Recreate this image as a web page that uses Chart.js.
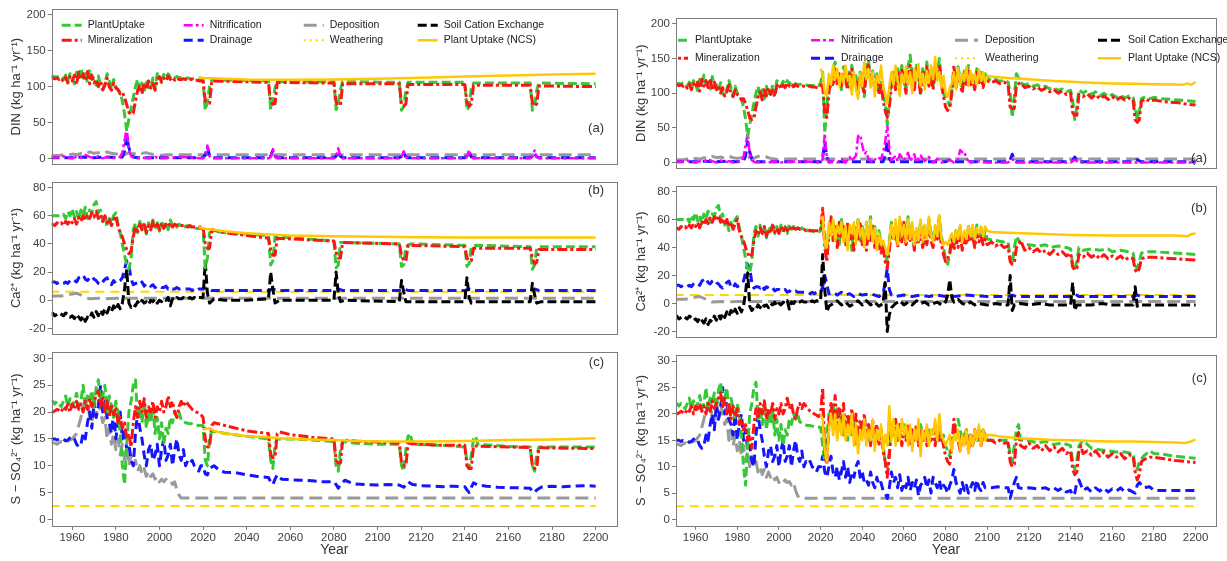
<!DOCTYPE html>
<html>
<head>
<meta charset="utf-8">
<script src="https://cdn.jsdelivr.net/npm/chart.js@4.4.1/dist/chart.umd.min.js"></script>
<style>
  body { margin: 0; background: #fff; width: 1227px; height: 561px; position: relative; overflow: hidden; }
  canvas { position: absolute; }
</style>
</head>
<body>
<script>
// ---- axis ticks ----
const yearTicks = [1960, 1980, 2000, 2020, 2040, 2060, 2080, 2100, 2120, 2140, 2160, 2180, 2200];
const dinTicks = [0, 50, 100, 150, 200];
const caTicks = [-20, 0, 20, 40, 60, 80];
const so4Ticks = [0, 5, 10, 15, 20, 25, 30];

// ---- DIN, 1950-2019 (shared by both runs) ----
const dinUptakeHist = [
  115, 114, 114, 113, 115, 115, 110, 116, 108, 118,
  112, 104, 120, 110, 126, 112, 118, 106, 124, 110,
  112, 102, 115, 100, 95, 105, 118, 108, 96, 110,
  100, 95, 92, 80, 62, 38, 55, 70, 85, 100,
  110, 95, 105, 92, 110, 100, 96, 112, 98, 118,
  116, 110, 117, 112, 118, 113, 116, 112, 114, 112,
  113, 112, 112, 112, 111, 111, 111, 111, 110, 110];
const dinMineralHist = [
  112, 112, 111, 112, 110, 112, 107, 113, 105, 114,
  108, 116, 103, 120, 110, 118, 108, 121, 104, 116,
  105, 110, 100, 108, 96, 102, 112, 100, 95, 105,
  98, 96, 90, 92, 85, 75, 64, 62, 63, 80,
  95, 102, 90, 105, 96, 108, 98, 104, 95, 110,
  114, 106, 112, 108, 115, 110, 113, 109, 112, 110,
  110, 111, 110, 109, 110, 110, 109, 109, 108, 108];
const dinNitrifHist = [[1950, 2], [1953, 1], [1956, 3], [1958, 1], [1960, 0], [1962, 2], [1964, 1], [1966, 5],
  [1968, 2], [1970, 0], [1972, 3], [1974, 0], [1976, 2], [1978, 0], [1980, 1], [1982, 2], [1983, 8], [1984, 25],
  [1985, 42], [1986, 12], [1987, 3], [1989, 0], [1992, 1], [1995, 0], [1998, 2], [2000, 0], [2005, 1], [2010, 2],
  [2015, 1], [2019, 0]];
const dinDrainHist = [[1950, 1], [1960, 1], [1965, 2], [1970, 1], [1975, 2], [1980, 1], [1983, 2], [1984, 10],
  [1985, 30], [1986, 15], [1987, 5], [1988, 2], [1990, 1], [2000, 1], [2019, 1]];
const dinDeposition = [[1950, 4], [1954, 4], [1956, 5], [1958, 4], [1960, 6], [1962, 5], [1964, 7], [1966, 6],
  [1968, 9], [1970, 7], [1972, 8], [1974, 6], [1976, 9], [1978, 7], [1980, 6], [1982, 7], [1984, 5], [1986, 8],
  [1988, 6], [1990, 9], [1992, 7], [1994, 8], [1996, 6], [1998, 5], [2000, 4], [2003, 5], [2010, 5], [2200, 5]];

// ---- DIN, 2020-2200, left run ----
const dinUptakeBase = [[2020, 110], [2021, 67], [2022, 80], [2023, 100], [2024, 109], [2030, 109], [2050, 108],
  [2051, 68], [2052, 78], [2053, 98], [2054, 107], [2080, 107], [2081, 68], [2082, 76], [2083, 96], [2084, 107],
  [2110, 106], [2111, 67], [2112, 72], [2113, 95], [2114, 106], [2140, 106], [2141, 67], [2142, 72], [2143, 98],
  [2144, 105], [2170, 105], [2171, 67], [2172, 72], [2173, 95], [2174, 105], [2200, 104]];
const dinMineralBase = [[2020, 108], [2021, 80], [2022, 77], [2023, 77], [2024, 108], [2050, 106], [2051, 78],
  [2052, 76], [2053, 76], [2054, 106], [2080, 105], [2081, 78], [2082, 74], [2083, 74], [2084, 104], [2110, 104],
  [2111, 76], [2112, 73], [2113, 76], [2114, 103], [2140, 103], [2141, 78], [2142, 73], [2143, 76], [2144, 102],
  [2170, 102], [2171, 78], [2172, 73], [2173, 76], [2174, 101], [2200, 100]];
const dinNitrifBase = [[2020, 0], [2021, 3], [2022, 18], [2023, 3], [2024, 0], [2050, 0], [2051, 2], [2052, 13],
  [2053, 2], [2054, 0], [2080, 0], [2081, 2], [2082, 14], [2083, 2], [2084, 0], [2110, 0], [2111, 2], [2112, 10],
  [2113, 2], [2114, 0], [2140, 0], [2141, 2], [2142, 12], [2143, 2], [2144, 0], [2170, 0], [2171, 2], [2172, 11],
  [2173, 2], [2174, 0], [2200, 0]];
const dinDrainBase = [[2020, 1], [2021, 5], [2022, 16], [2023, 3], [2024, 1], [2050, 1], [2051, 3], [2052, 11],
  [2053, 3], [2054, 1], [2080, 1], [2081, 3], [2082, 10], [2083, 3], [2084, 1], [2110, 1], [2111, 3], [2112, 8],
  [2113, 2], [2114, 1], [2140, 1], [2141, 3], [2142, 8], [2143, 2], [2144, 1], [2170, 1], [2171, 3], [2172, 7],
  [2173, 2], [2174, 1], [2200, 1]];
const dinNcsBase = [[2018, 113], [2020, 112], [2040, 110], [2060, 109.5], [2080, 110], [2100, 111], [2120, 112.5],
  [2140, 114], [2160, 115.5], [2180, 117], [2200, 118]];

// ---- DIN, 2020-2100 yearly then tail, right run ----
const dinUptakeScen = [
  115, 130, 42, 80, 120, 110, 135, 145, 118, 125,
  105, 138, 128, 112, 132, 140, 115, 125, 98, 130,
  120, 95, 140, 148, 120, 132, 110, 128, 100, 120,
  95, 88, 55, 90, 118, 130, 108, 135, 115, 140,
  122, 105, 138, 155, 125, 110, 140, 128, 100, 135,
  120, 145, 115, 132, 110, 138, 125, 150, 118, 100,
  92, 88, 82, 105, 128, 112, 138, 120, 105, 132,
  115, 140, 118, 125, 108, 135, 118, 130, 112, 128,
  122];
const dinMineralScen = [
  110, 115, 70, 65, 100, 125, 110, 138, 112, 128,
  108, 130, 118, 105, 128, 135, 112, 120, 100, 126,
  112, 98, 135, 140, 115, 128, 105, 122, 98, 115,
  90, 75, 65, 80, 110, 125, 105, 130, 110, 135,
  118, 100, 132, 140, 120, 105, 135, 122, 98, 130,
  115, 138, 110, 128, 105, 132, 120, 142, 112, 95,
  80, 75, 78, 100, 140, 108, 130, 115, 100, 128,
  110, 135, 112, 120, 105, 130, 112, 125, 108, 122,
  118];
const dinNcsScen = [
  135, 128, 100, 96, 128, 112, 140, 120, 135, 110,
  128, 115, 140, 118, 125, 98, 130, 105, 92, 128,
  110, 145, 120, 135, 108, 130, 95, 125, 115, 140,
  110, 100, 85, 110, 130, 112, 140, 118, 96, 128,
  115, 138, 112, 130, 100, 135, 118, 142, 110, 128,
  105, 132, 115, 140, 120, 152, 118, 130, 108, 125,
  100, 95, 108, 115, 130, 105, 136, 112, 128, 118,
  138, 110, 132, 115, 128, 112, 134, 118, 130, 115,
  125];
const dinUptakeTail = [[2102, 118], [2104, 120], [2106, 117], [2108, 119], [2110, 116], [2111, 100], [2112, 65],
  [2113, 95], [2114, 128], [2115, 122], [2116, 115], [2118, 112], [2120, 114], [2122, 110], [2124, 112], [2126, 108],
  [2128, 110], [2130, 106], [2132, 108], [2134, 104], [2136, 106], [2138, 102], [2140, 104], [2141, 90], [2142, 62],
  [2143, 80], [2144, 105], [2146, 100], [2148, 104], [2150, 98], [2152, 102], [2154, 96], [2156, 100], [2158, 95],
  [2160, 98], [2162, 94], [2164, 97], [2166, 93], [2168, 96], [2170, 94], [2171, 80], [2172, 62], [2173, 75],
  [2174, 92], [2176, 95], [2178, 92], [2180, 94], [2184, 92], [2188, 91], [2192, 90], [2196, 89], [2200, 88]];
const dinMineralTail = [[2102, 115], [2104, 118], [2106, 114], [2108, 116], [2110, 112], [2111, 80], [2112, 78],
  [2113, 78], [2114, 112], [2116, 115], [2118, 108], [2120, 110], [2122, 106], [2124, 109], [2126, 104], [2128, 107],
  [2130, 102], [2132, 105], [2134, 100], [2136, 103], [2138, 98], [2140, 100], [2141, 72], [2142, 68], [2143, 68],
  [2144, 98], [2146, 95], [2148, 99], [2150, 93], [2152, 98], [2154, 92], [2156, 96], [2158, 91], [2160, 95],
  [2162, 90], [2164, 94], [2166, 90], [2168, 93], [2170, 90], [2171, 62], [2172, 58], [2173, 62], [2174, 88],
  [2176, 92], [2178, 88], [2180, 90], [2184, 88], [2188, 87], [2192, 86], [2196, 84], [2200, 83]];
const dinNcsTail = [[2102, 124], [2110, 122], [2120, 120], [2130, 118], [2140, 116.5], [2150, 115], [2160, 114],
  [2170, 113.5], [2180, 113], [2190, 112.5], [2194, 112], [2196, 114], [2198, 112], [2200, 116]];
const dinNitrifScen = [[2020, 0], [2021, 5], [2022, 42], [2023, 8], [2024, 0], [2026, 2], [2028, 0], [2030, 5],
  [2032, 0], [2034, 8], [2035, 2], [2037, 10], [2038, 38], [2039, 40], [2040, 25], [2041, 12], [2042, 15], [2043, 5],
  [2045, 0], [2047, 8], [2049, 5], [2050, 15], [2051, 30], [2052, 55], [2053, 20], [2054, 3], [2056, 10], [2057, 2],
  [2058, 12], [2060, 3], [2062, 14], [2063, 2], [2065, 12], [2066, 0], [2068, 10], [2070, 2], [2072, 8], [2074, 0],
  [2076, 5], [2078, 0], [2080, 2], [2082, 4], [2084, 0], [2086, 5], [2087, 18], [2088, 15], [2089, 16], [2090, 5],
  [2092, 0], [2095, 2], [2100, 0], [2110, 0], [2112, 5], [2114, 0], [2140, 0], [2142, 4], [2144, 0], [2200, 0]];
const dinDrainScen = [[2020, 1], [2021, 8], [2022, 28], [2023, 8], [2024, 1], [2050, 1], [2051, 10], [2052, 32],
  [2053, 6], [2054, 1], [2080, 1], [2082, 4], [2084, 1], [2110, 1], [2111, 4], [2112, 12], [2113, 3], [2114, 1],
  [2140, 1], [2141, 3], [2142, 8], [2143, 2], [2144, 1], [2170, 1], [2172, 4], [2174, 1], [2200, 1]];

// ---- Ca2+, 1950-2019 ----
const caUptakeHist = [
  60, 60, 60, 60, 60, 60, 61, 58, 63, 60,
  65, 59, 63, 57, 64, 60, 66, 58, 64, 62,
  68, 70, 62, 64, 56, 60, 52, 58, 55, 60,
  62, 54, 48, 40, 32, 25, 22, 30, 50, 55,
  48, 56, 50, 54, 47, 55, 52, 57, 50, 55,
  49, 56, 52, 55, 50, 57, 53, 55, 52, 54,
  53, 54, 52, 53, 52, 52, 52, 51, 51, 51];
const caMineralHist = [
  54, 54, 53, 55, 54, 55, 53, 56, 54, 57,
  55, 58, 54, 59, 56, 60, 57, 61, 58, 62,
  59, 63, 58, 61, 56, 60, 55, 58, 53, 57,
  60, 52, 48, 45, 40, 36, 33, 35, 45, 52,
  49, 54, 50, 55, 48, 53, 50, 56, 51, 54,
  50, 55, 51, 54, 52, 55, 52, 54, 53, 54,
  53, 53, 53, 52, 53, 52, 52, 52, 52, 52];
const caDrainHist = [
  13, 13, 13, 12, 13, 12, 12, 13, 12, 14,
  15, 14, 13, 16, 17, 18, 15, 14, 16, 17,
  15, 14, 12, 11, 13, 15, 16, 12, 11, 14,
  12, 13, 14, 16, 22, 28, 25, 15, 11, 12,
  12, 11, 13, 10, 12, 11, 10, 11, 9, 10,
  10, 9, 9, 10, 8, 9, 8, 8, 9, 8,
  8, 8, 8, 8, 8, 7, 8, 7, 8, 8];
const caExchangeHist = [
  -10, -9, -11, -10, -9, -10, -11, -9, -10, -12,
  -11, -13, -10, -12, -14, -11, -15, -12, -13, -9,
  -12, -8, -11, -7, -10, -6, -9, -5, -8, -4,
  -7, -3, -6, -2, 8, 22, -2, -5, -3, -4,
  -1, -3, 0, -2, -1, -3, 0, -1, 1, -2,
  0, -1, 1, 0, 2, -4, 1, 0, 2, 1,
  1, 2, 1, 1, 2, 1, 2, 1, 2, 2];
const caDeposition = [[1950, 3], [1955, 3], [1958, 4], [1962, 5], [1965, 3], [1968, 1], [1972, 1.5], [1975, 1],
  [1980, 1.5], [2000, 1.5], [2200, 1.5]];
const caWeathering = [[1950, 6], [2200, 6]];

// ---- Ca2+, 2020-2200, left run ----
const caUptakeBase = [[2020, 51], [2021, 23], [2022, 30], [2023, 48], [2025, 49], [2030, 48], [2040, 47], [2050, 46],
  [2051, 25], [2052, 28], [2053, 45], [2055, 45], [2080, 42], [2081, 23], [2082, 25], [2083, 41], [2085, 41],
  [2110, 40], [2111, 24], [2112, 25], [2113, 38], [2115, 40], [2140, 39], [2141, 24], [2142, 26], [2143, 38],
  [2145, 39], [2170, 38], [2171, 22], [2172, 25], [2173, 37], [2175, 38], [2200, 38]];
const caMineralBase = [[2020, 52], [2021, 40], [2022, 37], [2023, 37], [2024, 50], [2030, 48], [2040, 46],
  [2050, 44], [2051, 36], [2052, 32], [2053, 32], [2054, 44], [2080, 42], [2081, 34], [2082, 30], [2083, 30],
  [2084, 41], [2110, 40], [2111, 32], [2112, 28], [2113, 28], [2114, 39], [2140, 38], [2141, 30], [2142, 28],
  [2143, 28], [2144, 37], [2170, 37], [2171, 30], [2172, 26], [2173, 27], [2174, 36], [2200, 36]];
const caDrainBase = [[2020, 8], [2022, 9], [2024, 7], [2050, 7], [2052, 8], [2054, 7], [2080, 7], [2082, 8],
  [2084, 7], [2110, 7], [2112, 8], [2114, 7], [2140, 7], [2142, 8], [2144, 7], [2170, 7], [2172, 8], [2174, 7],
  [2200, 7]];
const caExchangeBase = [[2020, 2], [2021, 27], [2022, 5], [2023, -2], [2025, 1], [2030, 0], [2040, 0], [2050, 1],
  [2051, 20], [2052, 8], [2053, -2], [2055, 0], [2080, 0], [2081, 20], [2082, 5], [2083, -1], [2085, 0], [2110, -1],
  [2111, 14], [2112, 6], [2113, -1], [2115, -1], [2140, -1], [2141, 16], [2142, 2], [2143, -2], [2145, -1],
  [2170, -1], [2171, 12], [2172, 4], [2173, -2], [2175, -1], [2200, -1]];
const caNcsBase = [[2018, 52], [2020, 51], [2030, 49], [2040, 47.5], [2060, 46], [2080, 45.5], [2100, 45],
  [2120, 44.8], [2140, 44.5], [2200, 44.5]];

// ---- Ca2+, 2020-2100 yearly then tail, right run ----
const caUptakeScen = [
  52, 60, 45, 35, 55, 50, 58, 46, 55, 42,
  60, 50, 56, 44, 52, 38, 55, 48, 60, 45,
  55, 42, 58, 50, 62, 46, 55, 40, 52, 44,
  38, 35, 30, 45, 58, 48, 55, 42, 60, 50,
  56, 45, 62, 48, 55, 40, 52, 46, 58, 44,
  55, 48, 60, 50, 46, 55, 52, 62, 48, 40,
  32, 28, 35, 48, 40, 52, 45, 55, 42, 50,
  45, 55, 48, 52, 45, 56, 48, 54, 46, 52,
  46];
const caMineralScen = [
  52, 68, 40, 30, 50, 62, 45, 55, 40, 58,
  48, 55, 42, 58, 45, 52, 38, 55, 46, 57,
  42, 50, 38, 52, 45, 55, 40, 48, 42, 36,
  40, 30, 25, 38, 52, 45, 56, 40, 52, 44,
  58, 42, 50, 45, 55, 38, 50, 44, 52, 40,
  48, 42, 55, 45, 40, 50, 46, 52, 42, 35,
  30, 32, 36, 48, 38, 46, 40, 50, 38, 48,
  42, 50, 44, 48, 40, 50, 44, 48, 42, 46,
  42];
const caNcsScen = [
  60, 62, 42, 40, 58, 48, 60, 45, 56, 50,
  58, 44, 55, 38, 56, 50, 58, 42, 60, 48,
  54, 40, 58, 46, 60, 44, 54, 38, 50, 42,
  45, 40, 35, 44, 56, 46, 60, 42, 62, 48,
  56, 44, 60, 46, 58, 42, 54, 45, 60, 44,
  56, 46, 62, 48, 44, 56, 48, 63, 46, 42,
  44, 42, 46, 50, 44, 52, 46, 56, 44, 52,
  46, 55, 48, 56, 46, 54, 50, 55, 48, 55,
  52];
const caUptakeTail = [[2104, 45], [2108, 44], [2110, 44], [2111, 32], [2112, 28], [2113, 40], [2114, 48],
  [2116, 43], [2120, 42], [2124, 41], [2128, 42], [2130, 40], [2134, 41], [2138, 40], [2140, 39], [2141, 28],
  [2142, 25], [2143, 30], [2144, 40], [2146, 38], [2150, 39], [2154, 38], [2158, 39], [2160, 37], [2164, 38],
  [2168, 37], [2170, 36], [2171, 27], [2172, 25], [2173, 30], [2174, 36], [2176, 37], [2180, 37], [2190, 36],
  [2200, 35]];
const caMineralTail = [[2102, 44], [2104, 41], [2106, 43], [2108, 40], [2110, 41], [2111, 30], [2112, 28],
  [2113, 29], [2114, 40], [2116, 45], [2118, 38], [2120, 40], [2122, 37], [2124, 39], [2126, 36], [2128, 38],
  [2130, 35], [2132, 38], [2134, 35], [2136, 37], [2138, 34], [2140, 36], [2141, 26], [2142, 24], [2143, 25],
  [2144, 35], [2146, 33], [2148, 36], [2150, 33], [2152, 35], [2154, 32], [2156, 35], [2158, 32], [2160, 34],
  [2162, 32], [2164, 34], [2166, 31], [2168, 33], [2170, 32], [2171, 24], [2172, 22], [2173, 25], [2174, 32],
  [2176, 33], [2180, 33], [2190, 32], [2200, 31]];
const caNcsTail = [[2102, 51], [2110, 50.5], [2120, 50], [2130, 49.5], [2140, 49], [2150, 48.8], [2160, 48.5],
  [2190, 48.5], [2196, 48], [2198, 49.5], [2200, 50]];
const caDrainScen = [[2020, 8], [2021, 12], [2022, 20], [2023, 14], [2024, 7], [2026, 8], [2028, 6], [2030, 8],
  [2032, 6], [2034, 7], [2036, 5], [2038, 7], [2040, 6], [2044, 7], [2048, 5], [2050, 7], [2051, 15], [2052, 25],
  [2053, 10], [2054, 6], [2056, 5], [2060, 6], [2064, 5], [2068, 6], [2072, 5], [2076, 6], [2080, 5], [2082, 6],
  [2084, 5], [2090, 6], [2100, 5], [2110, 5], [2112, 6], [2114, 5], [2140, 5], [2142, 7], [2144, 5], [2170, 5],
  [2172, 6], [2174, 5], [2200, 5]];
const caExchangeScen = [[2020, 2], [2021, 35], [2022, 10], [2023, -6], [2024, -2], [2026, 0], [2028, 2], [2030, -1],
  [2032, 1], [2034, -2], [2036, 0], [2038, 2], [2040, -1], [2042, 2], [2044, -1], [2046, 1], [2048, -2], [2050, 0],
  [2051, 15], [2052, -20], [2053, -8], [2054, -3], [2056, 0], [2058, 2], [2060, -1], [2062, 1], [2064, -1],
  [2066, 2], [2068, 0], [2070, 1], [2072, -1], [2074, 0], [2076, 1], [2078, -1], [2080, 1], [2081, 6], [2082, 17],
  [2083, 4], [2084, 1], [2086, 3], [2088, 0], [2090, -1], [2092, 1], [2094, -1], [2096, 0], [2100, -1], [2104, 0],
  [2108, -1], [2110, -1], [2111, 20], [2112, -5], [2113, -1], [2116, 0], [2120, -1], [2125, 0], [2130, -1],
  [2140, -1], [2141, 15], [2142, -5], [2143, -1], [2150, -1], [2155, 0], [2160, -1], [2170, -1], [2171, 12],
  [2172, -2], [2173, -1], [2200, -1]];

// ---- S-SO4, 1950-2019 ----
const so4UptakeHist = [
  22, 22, 21.5, 22, 21.5, 21, 22, 23, 21, 22.5,
  21, 22, 23.5, 21, 22, 25, 21, 23, 22, 24,
  21, 24.5, 26, 22, 23, 25, 20, 23, 21, 19,
  22, 20, 16, 10, 6.5, 14, 20, 22, 25, 26,
  19, 21, 18, 22, 17, 20, 18, 21, 16, 19,
  15, 18, 14, 17, 16, 19, 18, 20, 19, 20,
  18.5, 18.3, 18, 17.9, 17.8, 17.8, 17.7, 17.6, 17.5, 17.5];
const so4MineralHist = [
  20, 20, 20.2, 20.5, 20.3, 20, 21, 20.5, 21.5, 20,
  21.5, 20.5, 22, 20.5, 21.5, 20, 22, 20.5, 22.5, 21,
  22, 23, 24, 21, 23, 20, 22, 19, 21.5, 19.5,
  21, 18, 19, 17, 18, 15, 16, 13.5, 18, 21,
  19, 22, 20, 22.5, 19, 21, 20, 22, 19, 21,
  20, 22, 20, 21, 23, 21, 22, 20, 19, 21,
  22, 21, 22, 21.5, 21, 20.5, 20.3, 20, 19.8, 19.5];
const so4DrainHist = [
  15, 15, 15, 14.8, 15, 14.9, 15, 14.6, 14.8, 15.2,
  15.5, 15, 14, 13.5, 14, 16, 15, 18, 20, 17,
  22, 19, 21, 25, 20, 22, 19, 18, 16, 20,
  15, 18, 20, 15, 17, 13, 14, 11, 10, 16,
  20, 17, 15, 12, 10, 13, 14, 11, 12, 14,
  10, 13, 15, 11, 12, 14, 10, 13, 15, 12,
  11, 13, 10, 11, 10.5, 11, 10, 9.5, 9, 10];
const so4DepositionHist = [
  14.5, 14.3, 14.2, 14, 14.3, 14.5, 14.2, 14.3, 14.6, 14.8,
  15, 15.5, 16, 17.5, 19, 21, 22, 22.5, 19, 18,
  21, 19, 22, 20, 18, 19, 15, 17, 14, 16,
  13, 15, 12, 14, 11, 13, 10, 12, 10, 11,
  9, 10, 8.5, 9.5, 8, 9, 8, 8.5, 7.5, 8,
  7, 7.5, 7, 7.5, 7, 7.2, 6.5, 7, 5.5, 4.5,
  4, 4, 4, 4, 4, 4, 4, 4, 4, 4];
const so4DepositionTail = [[2200, 4]];
const so4Weathering = [[1950, 2.5], [2200, 2.5]];

// ---- S-SO4, 2020-2200, left run ----
const so4UptakeBase = [[2020, 17.5], [2021, 11], [2022, 10], [2023, 15], [2024, 16.5], [2030, 16], [2040, 15.5],
  [2050, 15], [2051, 11], [2052, 9.5], [2053, 14], [2054, 15], [2060, 15], [2070, 14.8], [2080, 14.5], [2081, 10],
  [2082, 9], [2083, 13], [2084, 14.5], [2090, 14.2], [2100, 14], [2110, 14], [2111, 10], [2112, 9], [2113, 13],
  [2114, 15.5], [2115, 16], [2116, 14], [2130, 13.8], [2140, 13.5], [2141, 11], [2142, 9.5], [2143, 12],
  [2144, 15], [2145, 15.5], [2146, 14], [2160, 13.6], [2170, 13.5], [2171, 10], [2172, 9], [2173, 12],
  [2174, 13.5], [2200, 13.5]];
const so4MineralBase = [[2020, 19], [2021, 15], [2022, 13.5], [2023, 13.5], [2024, 17.5], [2025, 18],
  [2030, 17.5], [2040, 16.5], [2050, 16], [2051, 12], [2052, 11.5], [2053, 11.5], [2054, 16], [2055, 16.3],
  [2060, 15.8], [2070, 15.3], [2080, 15], [2081, 11], [2082, 10.5], [2083, 10.5], [2084, 14.8], [2090, 14.6],
  [2100, 14.4], [2110, 14.2], [2111, 10.5], [2112, 10], [2113, 10], [2114, 14.2], [2120, 14], [2130, 13.8],
  [2140, 13.8], [2141, 10], [2142, 9.5], [2143, 9.5], [2144, 13.7], [2150, 13.6], [2160, 13.5], [2170, 13.4],
  [2171, 10], [2172, 9.5], [2173, 9.5], [2174, 13.4], [2180, 13.3], [2200, 13.2]];
const so4DrainBase = [[2020, 10], [2021, 8.5], [2022, 8.3], [2023, 9.5], [2025, 10], [2028, 9], [2030, 8.8],
  [2035, 8.7], [2040, 8.3], [2045, 8], [2050, 7.8], [2051, 7], [2052, 6.5], [2053, 7.5], [2054, 8.3], [2056, 7.5],
  [2060, 7.4], [2065, 7.3], [2070, 7.2], [2075, 7], [2080, 7], [2081, 6.5], [2082, 5.8], [2083, 6.5], [2085, 7.3],
  [2088, 6.8], [2090, 6.6], [2095, 6.5], [2100, 6.4], [2105, 6.5], [2110, 6.4], [2112, 6], [2114, 7], [2116, 6.5],
  [2120, 6.3], [2125, 6.2], [2130, 6.1], [2135, 6.2], [2140, 6.1], [2141, 5.5], [2142, 5], [2143, 6], [2144, 6.8],
  [2146, 6.4], [2150, 6.2], [2155, 6], [2160, 5.9], [2165, 5.9], [2170, 5.8], [2171, 5.2], [2172, 5], [2173, 5.5],
  [2175, 6], [2180, 6.2], [2185, 6.1], [2190, 6.2], [2195, 6.3], [2200, 6.2]];
const so4NcsBase = [[2020, 16.8], [2023, 17], [2025, 16.5], [2028, 16.2], [2030, 16], [2035, 15.8], [2040, 15.5],
  [2045, 15.4], [2050, 15.3], [2055, 15.1], [2060, 15], [2070, 14.9], [2080, 14.8], [2090, 14.6], [2100, 14.5],
  [2120, 14.5], [2140, 14.6], [2160, 14.8], [2180, 14.9], [2200, 15.1]];

// ---- S-SO4, 2020-2100 yearly then tail, right run ----
const so4UptakeScen = [
  17.5, 14, 11, 16, 20, 18, 22, 19, 21, 17,
  20, 16, 19, 15, 18, 16, 19, 14, 17, 15,
  18, 16, 17, 15, 17, 16, 15, 17, 16, 17,
  14, 11, 10, 13, 17, 17, 18, 17, 16, 17,
  18, 16, 15, 16, 17, 16, 16, 17, 18, 16,
  15, 16, 17, 16, 16, 17, 18, 16, 15, 16,
  14, 13, 12, 16, 17, 18, 19, 17, 15, 16,
  17, 15, 14, 15, 16, 15, 15, 16, 17, 16,
  15];
const so4MineralScen = [
  20, 25, 12, 10.5, 18, 22, 19, 23.5, 17, 21,
  18, 22, 16, 20, 17, 21, 16, 20, 15, 19,
  16, 20, 15, 18, 14, 19, 15, 18, 14, 17,
  13, 11, 8, 12, 18, 16, 19, 15, 18, 14,
  17, 15, 18, 14, 17, 15, 18, 14, 17, 15,
  17, 14, 16, 15, 17, 14, 17, 15, 16, 14,
  12, 11, 10.5, 14, 19, 16, 15, 13, 16, 14,
  17, 13, 16, 14, 17, 15, 17, 14, 16, 15,
  15];
const so4NcsScen = [
  20, 19, 13, 11, 17, 20, 16, 20, 15, 19,
  16, 20, 15, 18, 16, 20, 14, 18, 12.5, 17,
  15, 19, 14, 17, 15, 19, 13, 17, 15, 18,
  13, 16, 14, 21.5, 15, 19, 14, 18, 15, 19,
  16, 18, 14, 18, 13, 17, 15, 19, 12, 17,
  15, 18, 14, 17, 16, 19, 15, 20, 16, 15,
  14, 15, 16, 13, 16, 15, 17, 13, 16, 14,
  17, 12.5, 16, 14, 17, 15, 18, 14, 17, 15,
  16];
const so4DrainScen = [
  10, 12, 9, 8, 10, 12, 9, 8, 10, 7.5,
  9, 11, 8, 10, 7, 9, 8, 10, 11, 8,
  9, 7, 7.5, 6.5, 9, 7, 6, 8, 6.5, 7,
  5.5, 5, 4, 6, 9, 7, 8, 6, 8.5, 5.5,
  7, 6, 8, 5.5, 7, 6, 7.5, 4.5, 6.5, 7,
  8, 6, 7.5, 5, 8, 7, 6, 7.5, 5.5, 6.5,
  6, 5, 6.5, 7.5, 9.5, 7, 6, 5, 7, 5.5,
  6.5, 5, 6, 7, 5.5, 7.5, 6, 5.5, 7, 6,
  6];
const so4UptakeTail = [[2104, 15], [2108, 15], [2110, 15], [2111, 12], [2112, 11], [2113, 14], [2114, 17],
  [2115, 18], [2116, 15], [2120, 15], [2124, 14.5], [2128, 14.8], [2132, 14.2], [2136, 14.5], [2140, 14],
  [2141, 11], [2142, 9.5], [2143, 11], [2144, 14], [2146, 15], [2150, 13.5], [2154, 13.2], [2158, 13],
  [2162, 12.8], [2166, 12.8], [2170, 12.5], [2171, 10], [2172, 9.5], [2173, 11], [2175, 12], [2178, 13],
  [2180, 12.5], [2185, 12.3], [2190, 12], [2195, 11.8], [2200, 11.6]];
const so4MineralTail = [[2102, 15], [2104, 14.5], [2106, 15], [2108, 14.5], [2110, 14.5], [2111, 11], [2112, 10],
  [2113, 10.5], [2114, 15], [2115, 16.5], [2116, 14], [2118, 13.5], [2120, 14.5], [2122, 13.5], [2124, 14],
  [2126, 13], [2128, 14], [2130, 13], [2132, 13.8], [2134, 12.8], [2136, 13.5], [2138, 12.5], [2140, 13],
  [2141, 9.5], [2142, 8.5], [2143, 9], [2144, 13], [2145, 14], [2146, 12.5], [2148, 13], [2150, 12.2], [2152, 13],
  [2154, 12], [2156, 12.8], [2158, 11.8], [2160, 12.5], [2162, 11.8], [2164, 12.5], [2166, 11.5], [2168, 12.3],
  [2170, 12], [2171, 9], [2172, 7.5], [2173, 8.5], [2174, 11], [2176, 11.5], [2178, 11.8], [2180, 11.8],
  [2185, 11.5], [2190, 11.2], [2195, 11], [2200, 10.8]];
const so4NcsTail = [[2102, 16], [2105, 15.8], [2110, 15.6], [2115, 15.4], [2120, 15.3], [2130, 15.1], [2140, 15],
  [2150, 14.9], [2160, 14.8], [2170, 14.8], [2180, 14.7], [2190, 14.6], [2195, 14.5], [2198, 14.8], [2200, 15.2]];
const so4DrainTail = [[2102, 6], [2105, 6.2], [2108, 6], [2110, 6], [2111, 4], [2112, 5.5], [2113, 7], [2114, 8],
  [2115, 6], [2118, 5.8], [2120, 6], [2124, 5.8], [2128, 6], [2130, 5.6], [2132, 6], [2134, 5.5], [2136, 6],
  [2138, 5.2], [2140, 5.5], [2141, 4.5], [2142, 5], [2143, 7], [2144, 7.5], [2146, 5.5], [2148, 6], [2150, 5.2],
  [2152, 6], [2154, 5.4], [2156, 6], [2158, 5.2], [2160, 5.8], [2162, 5.4], [2164, 6], [2166, 5.2], [2168, 5.6],
  [2170, 5.2], [2171, 5], [2172, 6.5], [2173, 7], [2175, 6], [2178, 6.2], [2180, 5.5], [2185, 5.5], [2190, 5.5],
  [2200, 5.5]];

// ---- helpers ----
const yearly = (start, vals) => vals.map((v, i) => [start + i, v]);
const hist = vals => yearly(1950, vals);
const scen = vals => yearly(2020, vals);

// line styles, in legend order (two rows, filled column by column)
const seriesStyle = [
  { key: 'uptake', label: 'PlantUptake', color: '#37c837', width: 3, dash: [9, 4], order: 2 },
  { key: 'mineral', label: 'Mineralization', color: '#ff1414', width: 3, dash: [10, 3, 3, 3], order: 1 },
  { key: 'nitrif', label: 'Nitrification', color: '#ff00ff', width: 2.5, dash: [9, 3, 3, 3], order: 4 },
  { key: 'drain', label: 'Drainage', color: '#1414ff', width: 3, dash: [9, 5], order: 5 },
  { key: 'depo', label: 'Deposition', color: '#9a9a9a', width: 3, dash: [13, 6], order: 6 },
  { key: 'weath', label: 'Weathering', color: '#ffd700', width: 2, dash: [9, 6], legendDash: [2, 4], order: 7 },
  { key: 'sce', label: 'Soil Cation Exchange', color: '#000000', width: 3, dash: [9, 4], order: 3 },
  { key: 'ncs', label: 'Plant Uptake (NCS)', color: '#ffc800', width: 2.5, dash: [], order: 0 },
];

const FONT = '"Liberation Sans", Arial, sans-serif';
const dinTitle = 'DIN (kg ha\u207B\u00B9 yr\u207B\u00B9)';
const caTitle = 'Ca\u00B2\u207A (kg ha\u207B\u00B9 yr\u207B\u00B9)';
const so4Title = 'S \u2212 SO\u2084\u00B2\u207B (kg ha\u207B\u00B9 yr\u207B\u00B9)';

const panels = [
  {
    box: [0, 0, 625, 173], area: [51.7, 9.2, 617, 168.6], y: [-8, 208], ticks: dinTicks, title: dinTitle,
    tag: '(a)', tagAt: [604, 128],
    legend: { cols: [10, 132, 252, 366], rows: [16, 31], sample: 20, gap: 6 },
    data: {
      uptake: [...hist(dinUptakeHist), ...dinUptakeBase], mineral: [...hist(dinMineralHist), ...dinMineralBase],
      nitrif: [...dinNitrifHist, ...dinNitrifBase], drain: [...dinDrainHist, ...dinDrainBase],
      depo: dinDeposition, weath: [], sce: [], ncs: dinNcsBase,
    },
  },
  {
    box: [0, 173, 625, 170], area: [51.7, 176.7, 617, 338.7], y: [-24, 84], ticks: caTicks, title: caTitle,
    tag: '(b)', tagAt: [604, 190],
    data: {
      uptake: [...hist(caUptakeHist), ...caUptakeBase], mineral: [...hist(caMineralHist), ...caMineralBase],
      nitrif: [], drain: [...hist(caDrainHist), ...caDrainBase], depo: caDeposition, weath: caWeathering,
      sce: [...hist(caExchangeHist), ...caExchangeBase], ncs: caNcsBase,
    },
  },
  {
    box: [0, 343, 625, 218], area: [51.7, 347.7, 617, 525.9], y: [-1.2, 31.2], ticks: so4Ticks, title: so4Title,
    tag: '(c)', tagAt: [604, 362], xAxis: true,
    data: {
      uptake: [...hist(so4UptakeHist), ...so4UptakeBase], mineral: [...hist(so4MineralHist), ...so4MineralBase],
      nitrif: [], drain: [...hist(so4DrainHist), ...so4DrainBase],
      depo: [...hist(so4DepositionHist), ...so4DepositionTail], weath: so4Weathering, sce: [], ncs: so4NcsBase,
    },
  },
  {
    box: [619, 0, 608, 177], area: [676, 18.2, 1216, 175.1], y: [-8, 208], ticks: dinTicks, title: dinTitle,
    tag: '(a)', tagAt: [1207, 158],
    legend: { cols: [-11, 135, 279, 422], rows: [22, 40], sample: 23, gap: 7 },
    data: {
      uptake: [...hist(dinUptakeHist), ...scen(dinUptakeScen), ...dinUptakeTail],
      mineral: [...hist(dinMineralHist), ...scen(dinMineralScen), ...dinMineralTail],
      nitrif: [...dinNitrifHist, ...dinNitrifScen], drain: [...dinDrainHist, ...dinDrainScen],
      depo: dinDeposition, weath: [], sce: [], ncs: [...scen(dinNcsScen), ...dinNcsTail],
    },
  },
  {
    box: [619, 177, 608, 169], area: [676, 180, 1216, 342.5], y: [-24, 84], ticks: caTicks, title: caTitle,
    tag: '(b)', tagAt: [1207, 208],
    data: {
      uptake: [...hist(caUptakeHist), ...scen(caUptakeScen), ...caUptakeTail],
      mineral: [...hist(caMineralHist), ...scen(caMineralScen), ...caMineralTail],
      nitrif: [], drain: [...hist(caDrainHist), ...caDrainScen], depo: caDeposition, weath: caWeathering,
      sce: [...hist(caExchangeHist), ...caExchangeScen], ncs: [...scen(caNcsScen), ...caNcsTail],
    },
  },
  {
    box: [619, 346, 608, 215], area: [676, 350.8, 1216, 525.8], y: [-1.2, 31.2], ticks: so4Ticks, title: so4Title,
    tag: '(c)', tagAt: [1207, 378], xAxis: true,
    data: {
      uptake: [...hist(so4UptakeHist), ...scen(so4UptakeScen), ...so4UptakeTail],
      mineral: [...hist(so4MineralHist), ...scen(so4MineralScen), ...so4MineralTail],
      nitrif: [], drain: [...hist(so4DrainHist), ...scen(so4DrainScen), ...so4DrainTail],
      depo: [...hist(so4DepositionHist), ...so4DepositionTail], weath: so4Weathering, sce: [],
      ncs: [...scen(so4NcsScen), ...so4NcsTail],
    },
  },
];

// box around each panel, the (a)/(b)/(c) tag and the in-panel legend
const panelDecor = {
  id: 'panelDecor',
  afterDatasetsDraw(chart, args, opts) {
    const { ctx, chartArea: a } = chart;
    ctx.save();
    ctx.strokeStyle = '#7d7d7d';
    ctx.lineWidth = 1;
    ctx.strokeRect(Math.round(a.left) + 0.5, Math.round(a.top) + 0.5,
      Math.round(a.right - a.left), Math.round(a.bottom - a.top));

    ctx.fillStyle = '#333';
    ctx.font = '13px ' + FONT;
    ctx.textAlign = 'right';
    ctx.textBaseline = 'middle';
    ctx.fillText(opts.tag, opts.tagAt[0] - opts.origin[0], opts.tagAt[1] - opts.origin[1]);

    const lg = opts.legend;
    if (lg) {
      ctx.font = '10.5px ' + FONT;
      ctx.textAlign = 'left';
      seriesStyle.forEach((s, i) => {
        const x = a.left + lg.cols[Math.floor(i / 2)];
        const y = a.top + lg.rows[i % 2];
        // the key sample stays inside the plot box, the label may run past it
        ctx.save();
        ctx.beginPath();
        ctx.rect(a.left, a.top, a.right - a.left, a.bottom - a.top);
        ctx.clip();
        ctx.strokeStyle = s.color;
        ctx.lineWidth = s.width;
        ctx.setLineDash(s.legendDash || s.dash);
        ctx.beginPath();
        ctx.moveTo(x, y);
        ctx.lineTo(x + lg.sample, y);
        ctx.stroke();
        ctx.restore();
        ctx.fillStyle = '#222';
        ctx.fillText(s.label, x + lg.sample + lg.gap, y);
      });
    }
    ctx.restore();
  },
};

panels.forEach(p => {
  const [bx, by, bw, bh] = p.box;
  const [al, at, ar, ab] = p.area;
  const canvas = document.createElement('canvas');
  canvas.width = bw;
  canvas.height = bh;
  canvas.style.left = bx + 'px';
  canvas.style.top = by + 'px';
  document.body.appendChild(canvas);

  const axisW = al - bx;
  const bottomGap = by + bh - ab;

  new Chart(canvas, {
    type: 'line',
    data: {
      datasets: seriesStyle.map(s => ({
        label: s.label,
        data: p.data[s.key].map(([x, y]) => ({ x, y })),
        borderColor: s.color,
        borderWidth: s.width,
        borderDash: s.dash,
        borderJoinStyle: 'round',
        pointRadius: 0,
        tension: 0,
        fill: false,
        order: s.order,
      })),
    },
    options: {
      responsive: false,
      animation: false,
      events: [],
      layout: {
        padding: { left: 0, top: at - by, right: bx + bw - ar, bottom: p.xAxis ? 0 : bottomGap },
      },
      plugins: {
        legend: { display: false },
        tooltip: { enabled: false },
        panelDecor: { tag: p.tag, tagAt: p.tagAt, origin: [bx, by], legend: p.legend },
      },
      scales: {
        x: {
          type: 'linear',
          min: 1950.6,
          max: 2209.8,
          display: !!p.xAxis,
          afterFit: s => { s.height = bottomGap; },
          afterBuildTicks: s => { s.ticks = yearTicks.map(v => ({ value: v })); },
          grid: { drawOnChartArea: false, drawTicks: true, tickLength: 4, color: '#7d7d7d' },
          border: { display: false },
          ticks: {
            color: '#404040', padding: 1, maxRotation: 0, autoSkip: false,
            font: { family: FONT, size: 11.5 },
            callback: v => String(v),
          },
          title: {
            display: true, text: 'Year', color: '#333',
            font: { family: FONT, size: 14 }, padding: { top: 0, bottom: 2 },
          },
        },
        y: {
          type: 'linear',
          min: p.y[0],
          max: p.y[1],
          afterFit: s => { s.width = axisW; },
          afterBuildTicks: s => { s.ticks = p.ticks.map(v => ({ value: v })); },
          grid: { drawOnChartArea: false, drawTicks: true, tickLength: 4, color: '#7d7d7d' },
          border: { display: false },
          ticks: {
            color: '#404040', padding: 2, autoSkip: false,
            font: { family: FONT, size: 11.5 },
            callback: v => String(v),
          },
          title: {
            display: true, text: p.title, color: '#333',
            font: { family: FONT, size: 13 }, padding: { top: bx === 0 ? 9 : 15, bottom: 0 },
          },
        },
      },
    },
    plugins: [panelDecor],
  });
});
</script>
</body>
</html>
